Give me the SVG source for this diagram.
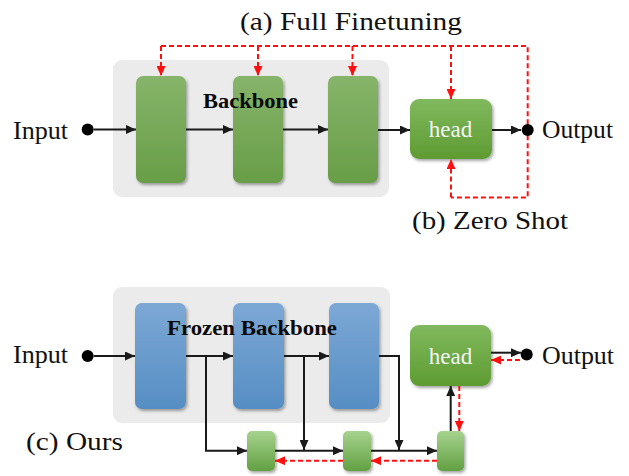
<svg xmlns="http://www.w3.org/2000/svg" width="629" height="476" viewBox="0 0 629 476">
  <defs>
    <style>
      .label { font-family: "Liberation Serif", "Times New Roman", serif; fill: #111; }
      .bold { font-family: "Liberation Serif", "Times New Roman", serif; font-weight: bold; fill: #0a0a0a; }
      .headtxt { font-family: "Liberation Serif", "Times New Roman", serif; fill: #f4f4f4; font-size: 23px; text-anchor: middle; }
      .panel { fill: #ebebeb; }
      .blk { fill: url(#gGreen); filter: url(#shadow); }
      .blue { fill: url(#gBlue); filter: url(#shadow); }
      .head { fill: url(#gHead); filter: url(#shadow); }
      .small { fill: url(#gSmall); filter: url(#shadow); }
      .arrow { fill: none; stroke: #1a1a1a; stroke-width: 2; marker-end: url(#ahBlack); }
      .grad { fill: none; stroke: #ff1010; stroke-width: 2; stroke-dasharray: 5 3; }
      .gradA { fill: none; stroke: #ff1010; stroke-width: 2; stroke-dasharray: 5 3; marker-end: url(#ahRed); }
      .dot { fill: #000; }
    </style>
    <linearGradient id="gGreen" x1="0" y1="0" x2="0" y2="1">
      <stop offset="0" stop-color="#86b46a"/>
      <stop offset="1" stop-color="#689d47"/>
    </linearGradient>
    <linearGradient id="gHead" x1="0" y1="0" x2="0" y2="1">
      <stop offset="0" stop-color="#80b95e"/>
      <stop offset="1" stop-color="#5e9b31"/>
    </linearGradient>
    <linearGradient id="gBlue" x1="0" y1="0" x2="0" y2="1">
      <stop offset="0" stop-color="#7ca8d5"/>
      <stop offset="1" stop-color="#568ec4"/>
    </linearGradient>
    <linearGradient id="gSmall" x1="0" y1="0" x2="0" y2="1">
      <stop offset="0" stop-color="#a6d38e"/>
      <stop offset="1" stop-color="#62a042"/>
    </linearGradient>
    <filter id="shadow" x="-20%" y="-20%" width="150%" height="150%">
      <feDropShadow dx="1.5" dy="2" stdDeviation="1.5" flood-color="#000" flood-opacity="0.35"/>
    </filter>
    <marker id="ahBlack" markerUnits="userSpaceOnUse" markerWidth="10" markerHeight="9" refX="10" refY="4.5" orient="auto">
      <path d="M0,0 L10,4.5 L0,9 z" fill="#1a1a1a"/>
    </marker>
    <marker id="ahRed" markerUnits="userSpaceOnUse" markerWidth="10" markerHeight="9" refX="10" refY="4.5" orient="auto">
      <path d="M0,0 L10,4.5 L0,9 z" fill="#ff1010"/>
    </marker>
  </defs>

  <!-- top diagram: full finetuning / zero shot -->
  <text class="label" x="240" y="29.5" font-size="25" textLength="222" lengthAdjust="spacingAndGlyphs">(a) Full Finetuning</text>
  <text class="label" x="412" y="228.5" font-size="25" textLength="156" lengthAdjust="spacingAndGlyphs">(b) Zero Shot</text>

  <g id="backbone-top">
    <rect class="panel" x="113" y="60" width="276" height="137" rx="9"/>
  </g>
  <g id="block-a1"><rect class="blk" x="136" y="76" width="50" height="107" rx="7"/></g>
  <g id="block-a2"><rect class="blk" x="233" y="76" width="50" height="107" rx="7"/></g>
  <g id="block-a3"><rect class="blk" x="328" y="76" width="50" height="107" rx="7"/></g>
  <text class="bold" x="203" y="108" font-size="21" textLength="95" lengthAdjust="spacingAndGlyphs">Backbone</text>
  <g id="head-a">
    <rect class="head" x="410" y="99" width="82" height="60" rx="9"/>
    <text class="headtxt" x="450.5" y="137">head</text>
  </g>
  <g id="input-a">
    <text class="label" x="13" y="139" font-size="25" textLength="55" lengthAdjust="spacingAndGlyphs">Input</text>
  </g>
  <g id="output-a">
    <text class="label" x="542" y="138" font-size="25" textLength="71" lengthAdjust="spacingAndGlyphs">Output</text>
  </g>

  <!-- bottom diagram: ours -->
  <text class="label" x="26" y="449.5" font-size="25" textLength="97" lengthAdjust="spacingAndGlyphs">(c) Ours</text>
  <g id="backbone-bottom">
    <rect class="panel" x="113" y="287" width="277" height="136" rx="9"/>
  </g>
  <g id="block-c1"><rect class="blue" x="135" y="303" width="51" height="106" rx="7"/></g>
  <g id="block-c2"><rect class="blue" x="233" y="303" width="51" height="106" rx="7"/></g>
  <g id="block-c3"><rect class="blue" x="329" y="303" width="50" height="106" rx="7"/></g>
  <text class="bold" x="167" y="335" font-size="21" textLength="170" lengthAdjust="spacingAndGlyphs">Frozen Backbone</text>
  <g id="head-c">
    <rect class="head" x="410" y="325" width="81" height="61" rx="9"/>
    <text class="headtxt" x="450.5" y="363.5">head</text>
  </g>
  <g id="side-1"><rect class="small" x="247" y="431" width="28" height="40" rx="5"/></g>
  <g id="side-2"><rect class="small" x="343" y="431" width="28" height="40" rx="5"/></g>
  <g id="side-3"><rect class="small" x="437" y="431" width="27" height="40" rx="5"/></g>
  <g id="input-c">
    <text class="label" x="13" y="363" font-size="25" textLength="55" lengthAdjust="spacingAndGlyphs">Input</text>
  </g>
  <g id="output-c">
    <text class="label" x="542" y="363.5" font-size="25" textLength="72" lengthAdjust="spacingAndGlyphs">Output</text>
  </g>

  <g id="connectors">
    <!-- top: forward pass -->
    <path class="arrow" d="M94,129.5 H136"/>
    <path class="arrow" d="M186,129.5 H233"/>
    <path class="arrow" d="M283,129.5 H328"/>
    <path class="arrow" d="M378,130 H410"/>
    <path class="arrow" d="M492,130 H521"/>
    <!-- top: gradient flow -->
    <path class="grad" d="M161,46 H527.7 V197.5 H451"/>
    <path class="gradA" d="M161,46 V76"/>
    <path class="gradA" d="M258,46 V76"/>
    <path class="gradA" d="M352.5,46 V76"/>
    <path class="gradA" d="M451,46 V99"/>
    <path class="gradA" d="M451,197.5 V159"/>

    <!-- bottom: forward pass -->
    <path class="arrow" d="M94,356 H135"/>
    <path class="arrow" d="M186,356 H233"/>
    <path class="arrow" d="M284,356 H329"/>
    <path class="arrow" d="M379,356 H399 V450"/>
    <path class="arrow" d="M206,356 V450.7 H247"/>
    <path class="arrow" d="M304,356 V450"/>
    <path class="arrow" d="M275,450.7 H343"/>
    <path class="arrow" d="M371,450.7 H437"/>
    <path class="arrow" d="M450.7,431 V386"/>
    <path class="arrow" d="M491,352.7 H521"/>
    <!-- bottom: gradient flow -->
    <path class="gradA" d="M459.3,386 V431"/>
    <path class="gradA" d="M437,460.7 H371"/>
    <path class="gradA" d="M343,460.7 H275"/>
    <path class="gradA" d="M520,360 H491"/>

    <!-- terminals -->
    <circle class="dot" cx="87.7" cy="129.5" r="6"/>
    <circle class="dot" cx="527.7" cy="130" r="6"/>
    <circle class="dot" cx="87.7" cy="356" r="6"/>
    <circle class="dot" cx="526.7" cy="354.5" r="6"/>
  </g>
</svg>
